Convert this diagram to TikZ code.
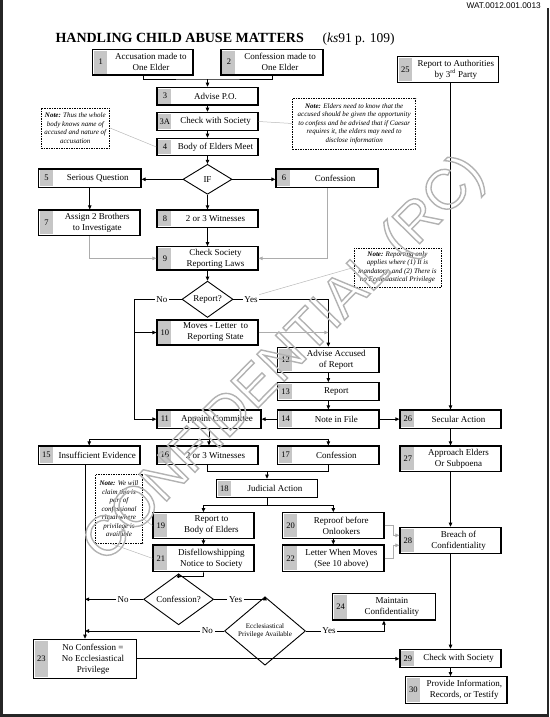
\documentclass[tikz,border=0pt]{standalone}
\usepackage{fontspec}
\setmainfont{Liberation Serif}
\newfontfamily\stampfont{Liberation Sans}
\usetikzlibrary{arrows.meta,shapes.geometric}

\tikzset{
  boxframe/.style={draw, line width=1.2pt, fill=white, inner sep=0pt},
  numcell/.style={fill=gray!45},
  numtext/.style={font=\fontsize{8.5}{10}\selectfont, inner sep=0pt},
  boxtext/.style={font=\fontsize{9}{11}\selectfont, align=center, inner sep=0pt},
  notebox/.style={draw, dash pattern=on 1.5pt off 1pt, line width=0.8pt, fill=white, inner sep=1pt, align=center, font=\fontsize{7}{8.5}\selectfont\itshape},
  decision/.style={diamond, draw, line width=0.9pt, fill=white, inner sep=0pt, font=\fontsize{9}{11}\selectfont},
  yesno/.style={font=\fontsize{9}{11}\selectfont, inner sep=1.5pt},
  conn/.style={line width=0.8pt},
  arr/.style={conn, -{Triangle[length=4pt,width=3.5pt]}},
  softline/.style={draw=gray!65},
  noteline/.style={gray!55, line width=0.5pt},
}

% box with grey number cell: name, number, x1, y1, x2, y2, text
\newcommand{\procbox}[7]{%
  \node[boxframe, minimum width={(#5)-(#3)}, minimum height={(#6)-(#4)}] (#1) at ({((#3)+(#5))/2},{((#4)+(#6))/2}) {};
  \fill[numcell] ([shift={(2pt,-2pt)}]#1.north west) rectangle ([shift={(15pt,2pt)}]#1.south west);
  \node[numtext] at ([xshift=8.5pt]#1.west) {#2};
  \node[boxtext] at ([xshift=8pt]#1.center) {#7};
}

\begin{document}
\begin{tikzpicture}[x=1pt,y=-1pt]
\useasboundingbox (0,0) rectangle (549,717);

% page edges
\fill[black!85] (0,0) rectangle (2.5,717);
\fill[black!85] (0,714) rectangle (549,717);
\fill[black!85] (546.5,8) rectangle (549,717);

\node[anchor=base west, font=\fontsize{14}{16}\selectfont\bfseries] (title) at (52,43) {HANDLING CHILD ABUSE MATTERS};
\node[anchor=base west, font=\fontsize{13.5}{16}\selectfont] (ref) at (319,43) {(\textit{ks}91 p. 109)};
\node[anchor=east, font=\stampfont\fontsize{8.3}{10}\selectfont, inner sep=0pt] (docid) at (541,6) {WAT.0012.001.0013};

% notes
\node[notebox, minimum width=68.6pt, minimum height=40pt] (noteL) at (75.3,128) {\textbf{Note:} Thus the whole\\body knows name of\\accused and nature of\\accusation};
\node[notebox, minimum width=123pt, minimum height=51pt] (noteR) at (354.2,123.5) {\textbf{Note:} Elders need to know that the\\accused should be given the opportunity\\to confess and be advised that if Caesar\\requires it, the elders may need to\\disclose information};
\node[notebox, minimum width=87pt, minimum height=39pt] (noteRep) at (397.5,267.5) {\textbf{Note:} Reporting only\\applies where (1) It is\\mandatory, and (2) There is\\no Ecclesiastical Privilege};
\node[notebox, minimum width=47.7pt, minimum height=69pt] (noteC) at (119,508.7) {\textbf{Note:} We will\\claim this is\\part of\\confessional\\ritual where\\privilege is\\available};

% boxes
\procbox{b1}{1}{92.8}{49.3}{193}{75}{Accusation made to\\One Elder}
\procbox{b2}{2}{221}{49.3}{323}{75}{Confession made to\\One Elder}
\procbox{b25}{25}{397.4}{56.7}{498.3}{82.3}{Report to Authorities\\by 3\textsuperscript{rd} Party}
\procbox{b3}{3}{157}{87.3}{258}{105}{Advise P.O.}
\procbox{b3A}{3A}{157}{112.3}{258}{130.7}{Check with Society}
\procbox{b4}{4}{157}{138.3}{258}{155.7}{Body of Elders Meet}
\procbox{b5}{5}{38.5}{169}{141}{187.3}{Serious Question}
\procbox{b6}{6}{276}{169}{378}{187.3}{Confession}
\procbox{b7}{7}{38.5}{210}{140}{235.7}{Assign 2 Brothers\\to Investigate}
\procbox{b8}{8}{157}{210}{258}{227.3}{2 or 3 Witnesses}
\procbox{b9}{9}{157}{246.7}{258}{270}{Check Society\\Reporting Laws}
\procbox{b10}{10}{157}{320}{258}{345}{Moves - Letter\ \ to\\Reporting State}
\procbox{b12}{12}{277.7}{347.3}{379}{372.3}{Advise Accused\\of Report}
\procbox{b13}{13}{277.7}{382.7}{379}{400.7}{Report}
\procbox{b11}{11}{157}{410}{261}{428.3}{Appoint Committee}
\procbox{b14}{14}{277.7}{410}{379}{428.3}{Note in File}
\procbox{b26}{26}{400}{410}{501}{428.3}{Secular Action}
\procbox{b15}{15}{38.5}{446}{140}{464.3}{Insufficient Evidence}
\procbox{b16}{16}{157}{446}{258}{464.3}{2 or 3 Witnesses}
\procbox{b17}{17}{277.7}{446}{379}{464.3}{Confession}
\procbox{b27}{27}{400}{446}{501}{471.7}{Approach Elders\\Or Subpoena}
\procbox{b18}{18}{216.4}{479.3}{317.6}{497.3}{Judicial Action}
\procbox{b19}{19}{153}{512.7}{253.9}{538.3}{Report to\\Body of Elders}
\procbox{b20}{20}{282.6}{512.7}{384}{538.3}{Reproof before\\Onlookers}
\procbox{b28}{28}{400}{527.3}{501}{553.3}{Breach of\\Confidentiality}
\procbox{b21}{21}{153}{545}{253.9}{571.7}{Disfellowshipping\\Notice to Society}
\procbox{b22}{22}{282.6}{545}{384}{571.7}{Letter When Moves\\(See 10 above)}
\procbox{b24}{24}{332.6}{593.3}{435.2}{620}{Maintain\\Confidentiality}
\procbox{b23}{23}{33.5}{639.3}{136.5}{678.3}{No Confession =\\No Ecclesiastical\\Privilege}
\procbox{b29}{29}{400}{649.3}{501}{667.3}{Check with Society}
\procbox{b30}{30}{405.5}{676.7}{507}{703.3}{Provide Information,\\Records, or Testify}

% decisions
\node[decision, minimum width=49pt, minimum height=30pt] (if) at (207.5,179.3) {IF};
\node[decision, minimum width=51pt, minimum height=30pt] (rep) at (207.5,299.3) {Report?};
\node[decision, minimum width=70pt, minimum height=32pt] (conf) at (178.6,599.3) {Confession?};
\node[decision, minimum width=81pt, minimum height=43pt, align=center, font=\fontsize{7}{8.3}\selectfont] (eccl) at (265,631) {Ecclesiastical\\Privilege Available};

\node[yesno] (no1) at (161.8,299.3) {No};
\node[yesno] (yes1) at (251,299.3) {Yes};
\node[yesno] (no2) at (123.2,599.3) {No};
\node[yesno] (yes2) at (235.6,599.3) {Yes};
\node[yesno] (no3) at (207.3,631) {No};
\node[yesno] (yes3) at (329,631) {Yes};

\coordinate (j12) at (207.5,79);
\coordinate (jno) at (134.8,299.3);
\coordinate (d11) at (209,439.3);
\coordinate (j1617) at (267,471.7);
\coordinate (d18) at (267,505);
\coordinate (j21) at (203.5,576.7);

% note leaders
\draw[noteline] (noteL.east) -- (b4.west);
\draw[noteline] (b3A.east) -- (noteR.west);
\draw[noteline] (yes1.north east) -- (noteRep.west);
\draw[noteline] ([yshift=-10pt]noteC.east) -- (b19.west);
\draw[noteline] ([xshift=-8pt]noteC.south) -- (b21.west);

% connectors
\draw[conn] (b1.south) |- (j12) -| (b2.south);
\draw[arr] (j12) -- (b3.north);
\draw[arr] (b3) -- (b3A);
\draw[arr] (b3A) -- (b4);
\draw[arr] (b4) -- (if);
\draw[arr] (if.west) -- (if.west -| b5.east);
\draw[arr] (if.east) -- (if.east -| b6.west);
\draw[arr] (if.south) -- (b8.north);
\draw[arr] (b5.south) -- (b5.south |- b7.north);
\draw[arr, softline] (b7.south) |- (b9.west);
\draw[arr, softline] (b6.south) |- (b9.east);
\draw[arr] (b8) -- (b9);
\draw[arr] (b9) -- (rep);
\draw[conn] (rep.west) -- (no1.east);
\draw[conn] (no1.west) -- (jno);
\draw[arr] (jno) |- (b11.west);
\draw[arr] (jno |- b10.west) -- (b10.west);
\draw[conn] (rep.east) -- (yes1.west);
\draw[arr] (yes1.east) -| (b12.north);
\draw[arr, softline] (b10.east) -- (b10.east -| b12.north);
\draw[arr] (b12) -- (b13);
\draw[arr] (b13) -- (b14);
\draw[arr] (b14) -- (b11);
\draw[arr] (b14) -- (b26);
\draw[arr] (b26.north |- b25.south) -- (b26.north);
\draw[arr] (b26) -- (b27);
\draw[arr] (b27) -- (b28);
\draw[arr] (b28) -- (b29);
\draw[arr] (b29.south) -- (b29.south |- b30.north);

\draw[conn] (b11.south) -- (d11);
\draw[arr] (d11) -| (b15.north);
\draw[arr] (d11) -- (d11 |- b16.north);
\draw[arr] (d11) -| (b17.north);
\draw[conn] (b16.south) |- (j1617) -| (b17.south);
\draw[arr] (j1617) -- (b18.north);
\draw[conn] (b18.south) -- (d18);
\draw[arr] (d18) -| (b19.north);
\draw[arr] (d18) -| (b20.north);
\draw[arr] (b19) -- (b21);
\draw[arr] (b20.south) -- (b20.south |- b22.north);
\draw[arr, softline] (b20.east) -- ++(8.7,0) |- ([yshift=5pt]b28.west);
\draw[arr, softline] (b22.east) -- ++(8.7,0) |- ([yshift=-5pt]b28.west);

\draw[arr] (b23.north |- b15.south) -- (b23.north);
\draw[conn] (b21.south) -- (j21);
\draw[arr] (j21) -| (conf.north);
\draw[conn] (conf.west) -- (no2.east);
\draw[arr] (no2.west) -- (no2.west -| b23.north);
\draw[conn] (conf.east) -- (yes2.west);
\draw[arr] (yes2.east) -| (eccl.north);
\draw[conn] (eccl.west) -- (no3.east);
\draw[arr] (no3.west) -- (no3.west -| b23.north);
\draw[conn] (eccl.east) -- (yes3.west);
\draw[arr] (yes3.east) -| (b24.south);
\draw[arr] (b23.east) -- (b23.east -| b29.west);

% watermark
\node[rotate=45.5, text=gray!60, font=\stampfont\fontsize{56}{60}\selectfont] (stamp) at (285,360) {\special{pdf:literal direct 1 Tr 1.4 w}CONFIDENTIAL (RC)\special{pdf:literal direct 0 Tr}};

\end{tikzpicture}
\end{document}
